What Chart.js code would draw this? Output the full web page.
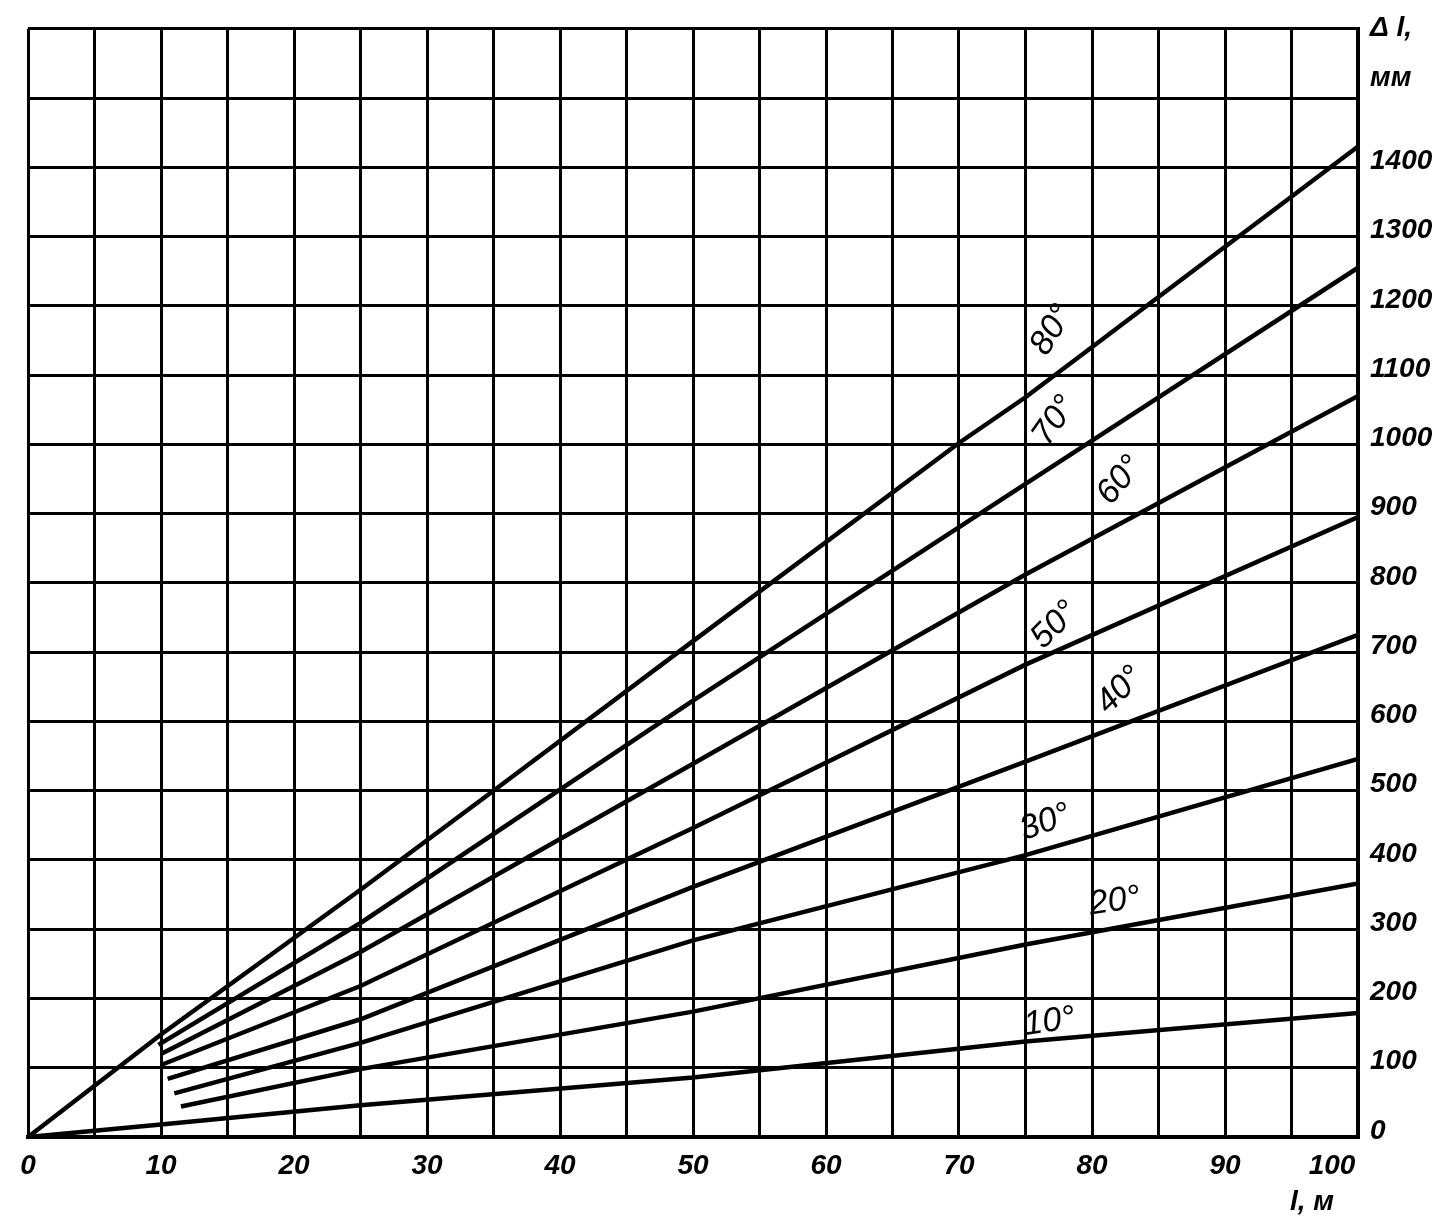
<!DOCTYPE html>
<html><head><meta charset="utf-8">
<script src="https://cdn.jsdelivr.net/npm/chart.js@4/dist/chart.umd.min.js"></script>
<style>html,body{margin:0;padding:0;background:#fff}#wrap{width:1455px;height:1231px;position:relative}</style>
</head><body><div id="wrap"><canvas id="c"></canvas></div>
<script>
// Temperature-difference curves: elongation Δl (mm) vs length l (m)
const seriesNames = ['10°','20°','30°','40°','50°','60°','70°','80°'];
const x10 = [0, 10, 25, 50, 75, 100];
const y10 = [0, 18, 46, 86, 138, 179];
const x20 = [11.5, 25, 50, 75, 100];
const y20 = [44, 98, 181, 278, 366];
const x30 = [11, 25, 50, 75, 100];
const y30 = [63, 136, 284, 407, 546];
const x40 = [10.5, 25, 50, 75, 100];
const y40 = [84, 170, 361, 542, 725];
const x50 = [10, 25, 50, 75, 100];
const y50 = [104, 218, 446, 682, 895];
const x60 = [10, 25, 50, 75, 100];
const y60 = [120, 267, 539, 812, 1070];
const x70 = [9.8, 25, 50, 75, 100];
const y70 = [133, 309, 630, 943, 1255];
const x80 = [0, 10, 25, 35, 50, 70, 75, 100];
const y80 = [0, 148, 357, 500, 716, 1002, 1068, 1430];

const xTickLabels = ['0','10','20','30','40','50','60','70','80','90'];
const xLastLabel = '100';
const yTickLabels = ['0','100','200','300','400','500','600','700','800','900','1000','1100','1200','1300','1400'];

const xs = [x10,x20,x30,x40,x50,x60,x70,x80];
const ys = [y10,y20,y30,y40,y50,y60,y70,y80];

// label placement (annotation layout, data coordinates)
const labelLayout = [
  {x:76.8, y:166, rot:-8},
  {x:81.7, y:340, rot:-8},
  {x:76.5, y:454, rot:-20},
  {x:82.1, y:645, rot:-45},
  {x:77.2, y:739, rot:-45},
  {x:82.1, y:948, rot:-50},
  {x:77.2, y:1034, rot:-55},
  {x:77.0, y:1165, rot:-58}
];

const FONT = 'Liberation Sans';

const datasets = seriesNames.map((n,i)=>({
  label:n,
  data: xs[i].map((x,j)=>({x:x, y:ys[i][j]})),
  borderColor:'#000', backgroundColor:'#000',
  borderWidth:4.5, pointRadius:0, tension:0, fill:false
}));

const textPlugin = {
  id:'texts',
  afterDatasetsDraw(chart){
    const ctx = chart.ctx, xs_ = chart.scales.x, ys_ = chart.scales.y;
    ctx.save();
    ctx.fillStyle = '#000';
    ctx.font = 'italic 34px "'+FONT+'"';
    ctx.textAlign = 'center'; ctx.textBaseline = 'middle';
    seriesNames.forEach((n,i)=>{
      const L = labelLayout[i];
      ctx.save();
      ctx.translate(xs_.getPixelForValue(L.x), ys_.getPixelForValue(L.y));
      ctx.rotate(L.rot*Math.PI/180);
      ctx.fillText(n,0,0);
      ctx.restore();
    });
    ctx.font = 'italic bold 28px "'+FONT+'"';
    ctx.textAlign = 'center'; ctx.textBaseline = 'top';
    ctx.fillText(xLastLabel, xs_.getPixelForValue(100) - 26, chart.chartArea.bottom + 15);
    ctx.textAlign = 'left'; ctx.textBaseline = 'middle';
    ctx.fillText('Δ l,', 1370, 28);
    ctx.fillText('мм', 1370, 78);
    ctx.textAlign = 'right';
    ctx.fillText('l, м', 1334, 1202);
    ctx.restore();
  }
};

new Chart(document.getElementById('c'), {
  type:'line',
  data:{datasets},
  options:{
    responsive:true, maintainAspectRatio:false, animation:false,
    layout:{padding:{left:28, top:28, right:0, bottom:0}},
    plugins:{legend:{display:false}, tooltip:{enabled:false}},
    scales:{
      x:{type:'linear', position:'bottom', min:0, max:100,
        afterFit(s){ s.height = 94; },
        grid:{color:'#000', lineWidth:3, drawTicks:false},
        border:{color:'#000', width:4},
        ticks:{stepSize:5, padding:12, color:'#000', maxRotation:0, autoSkip:false,
          font:{family:FONT, style:'italic', weight:'bold', size:28},
          callback:(v)=>{ const k = xTickLabels.indexOf(String(v)); return k>=0 ? xTickLabels[k] : ''; }}
      },
      y:{type:'linear', position:'right', min:0, max:1600,
        afterFit(s){ s.width = 97; },
        grid:{color:'#000', lineWidth:3, drawTicks:false},
        border:{color:'#000', width:4},
        ticks:{stepSize:100, padding:12, color:'#000', labelOffset:-6, autoSkip:false,
          font:{family:FONT, style:'italic', weight:'bold', size:28},
          callback:(v)=>{ const k = yTickLabels.indexOf(String(v)); return k>=0 ? yTickLabels[k] : ''; }}
      }
    }
  },
  plugins:[textPlugin]
});
</script></body></html>
